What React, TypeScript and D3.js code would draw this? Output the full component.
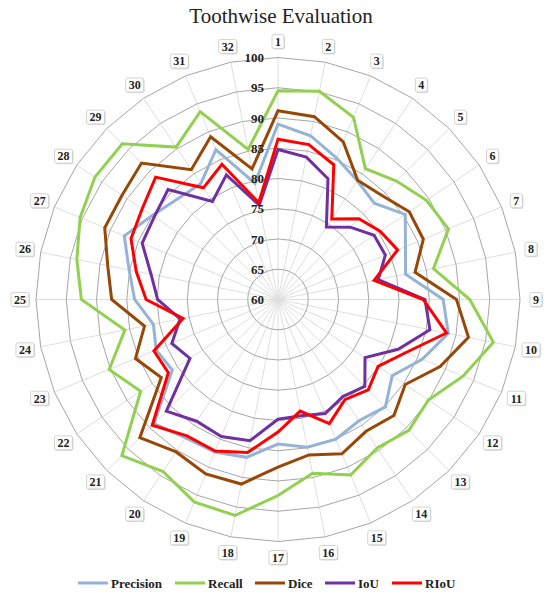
import React from "react";
import * as d3 from "d3";

const categories = Array.from({ length: 32 }, (_, i) => String(i + 1));
const tickValues = [60, 65, 70, 75, 80, 85, 90, 95, 100];
const seriesNames = ["Precision", "Recall", "Dice", "IoU", "RIoU"];
const seriesColors = ["#95b3d7", "#92d050", "#974706", "#7030a0", "#ff0000"];

const precision = [89.0, 87.6, 85.3, 83.6, 82.5, 85.3, 82.8, 81.5, 87.3, 88.7, 85.8, 82.7, 85.1, 84.1, 85.0, 84.9, 83.9, 86.6, 87.3, 87.5, 89.0, 81.0, 81.8, 81.0, 83.7, 85.1, 87.5, 85.0, 83.5, 83.0, 86.8, 79.6];
const recall = [94.5, 95.1, 92.6, 86.0, 87.7, 89.5, 90.5, 86.2, 91.7, 96.3, 93.1, 89.9, 90.6, 89.5, 91.4, 89.3, 92.4, 96.4, 96.2, 94.2, 96.5, 87.3, 90.2, 85.8, 92.5, 93.9, 95.4, 96.4, 96.4, 90.3, 93.6, 85.3];
const dice = [91.2, 90.8, 88.2, 83.7, 84.3, 86.1, 86.0, 83.1, 89.5, 92.1, 89.0, 85.3, 87.1, 86.2, 87.6, 86.2, 87.7, 91.1, 91.2, 90.3, 92.3, 83.2, 85.5, 82.5, 87.5, 88.7, 91.0, 91.0, 91.9, 85.8, 89.1, 82.0];
const iou = [84.8, 84.0, 81.6, 74.4, 76.9, 79.1, 79.2, 76.9, 84.3, 85.6, 81.5, 77.3, 80.3, 79.3, 80.4, 79.6, 79.8, 83.8, 84.5, 84.2, 86.1, 77.5, 79.0, 76.5, 79.9, 81.4, 84.3, 84.6, 85.7, 79.5, 82.3, 75.9];
const riou = [86.5, 86.1, 84.1, 76.0, 78.9, 80.3, 81.4, 76.2, 84.0, 88.4, 82.9, 79.9, 81.1, 79.9, 82.2, 78.8, 81.9, 85.8, 87.1, 87.1, 89.4, 81.8, 82.2, 76.0, 81.8, 83.9, 86.3, 87.0, 88.6, 82.2, 84.2, 76.3];

const seriesData = [precision, recall, dice, iou, riou];

const W = 550;
const H = 596;
const cx = 278;
const cy = 299.5;
const R = 242;
const FONT = "'Liberation Serif', 'Times New Roman', serif";

export default function App() {
  const n = categories.length;
  const rScale = d3.scaleLinear().domain([60, 100]).range([0, R]);
  const angle = d3.scaleLinear().domain([0, n]).range([0, 2 * Math.PI]);
  const pt = (i: number, v: number): [number, number] => {
    const a = angle(i);
    const r = rScale(v);
    return [cx + r * Math.sin(a), cy - r * Math.cos(a)];
  };
  const closedLine = d3
    .line<[number, number]>()
    .x((d) => d[0])
    .y((d) => d[1])
    .curve(d3.curveLinearClosed);

  const legendX = [78, 175, 255, 325, 392];

  return (
    <svg
      width={W}
      height={H}
      style={{ position: "absolute", left: 0, top: 0, background: "#fff" }}
      fontFamily={FONT}
    >
      <rect x={0} y={0} width={W} height={H} fill="#fff" />
      <text x={281} y={23} textAnchor="middle" fontSize={21} fill="#222">
        Toothwise Evaluation
      </text>

      {/* spokes */}
      {categories.map((c, i) => {
        const [x, y] = pt(i, 100);
        return <line key={"s" + c} x1={cx} y1={cy} x2={x} y2={y} stroke="#dedede" strokeWidth={1} />;
      })}

      {/* rings */}
      {tickValues
        .filter((t) => t > 60)
        .map((t) => (
          <path
            key={"r" + t}
            d={closedLine(categories.map((_, i) => pt(i, t))) || ""}
            fill="none"
            stroke="#a6a6a6"
            strokeWidth={1}
          />
        ))}

      {/* series */}
      {seriesData.map((vals, si) => (
        <path
          key={seriesNames[si]}
          d={closedLine(vals.map((v, i) => pt(i, v))) || ""}
          fill="none"
          stroke={seriesColors[si]}
          strokeWidth={3}
          strokeLinejoin="miter"
        />
      ))}

      {/* tick labels */}
      {tickValues.map((t) => (
        <text
          key={"t" + t}
          x={cx - 14}
          y={cy - rScale(t)}
          dy="0.35em"
          textAnchor="end"
          fontSize={13}
          fontWeight="bold"
          fill="#222"
        >
          {t}
        </text>
      ))}

      {/* category labels */}
      {categories.map((c, i) => {
        const a = angle(i);
        const rl = R + 16;
        const x = cx + rl * Math.sin(a);
        const y = cy - rl * Math.cos(a);
        const w = c.length * 6 + 6;
        const h = 14;
        return (
          <g key={"c" + c}>
            <rect x={x - w / 2 + 1} y={y - h / 2 + 1} width={w} height={h} rx={2} fill="#d9d9d9" />
            <rect x={x - w / 2} y={y - h / 2} width={w} height={h} rx={2} fill="#fff" stroke="#c8c8c8" strokeWidth={0.8} />
            <text x={x} y={y} dy="0.36em" textAnchor="middle" fontSize={12} fontWeight="bold" fill="#222">
              {c}
            </text>
          </g>
        );
      })}

      {/* legend */}
      {seriesNames.map((s, i) => (
        <g key={"l" + s}>
          <line x1={legendX[i]} x2={legendX[i] + 30} y1={583} y2={583} stroke={seriesColors[i]} strokeWidth={3} />
          <text x={legendX[i] + 33} y={583} dy="0.35em" fontSize={13} fontWeight="bold" fill="#222">
            {s}
          </text>
        </g>
      ))}
    </svg>
  );
}
